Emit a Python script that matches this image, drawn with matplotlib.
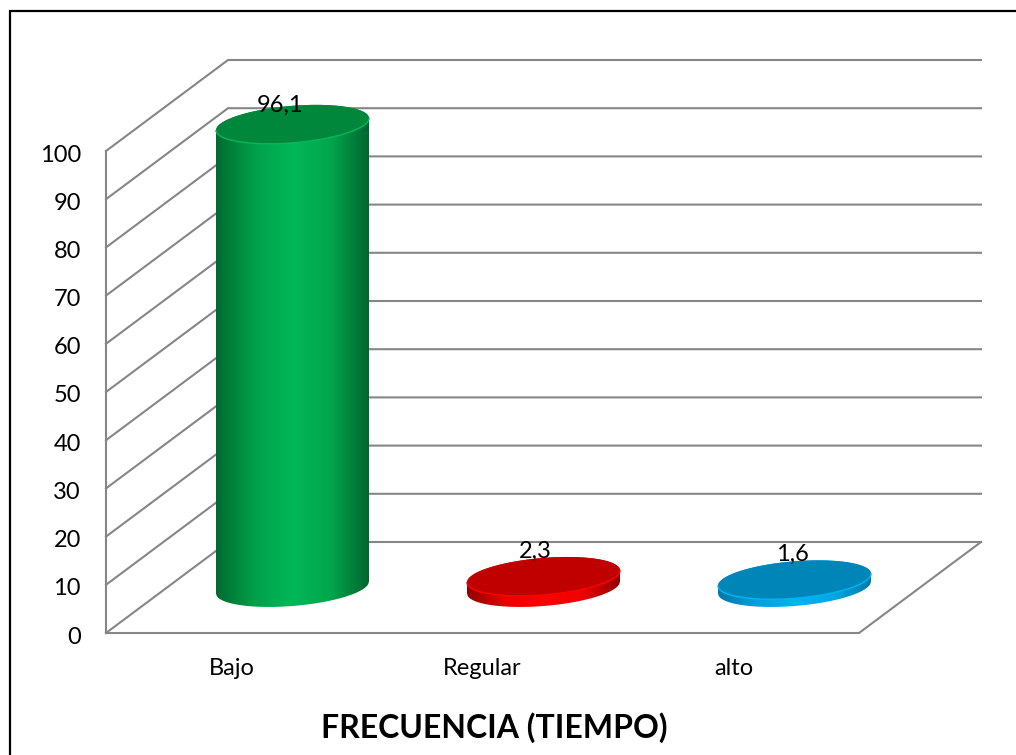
import numpy as np
import matplotlib
matplotlib.use('Agg')
import matplotlib.pyplot as plt
from matplotlib.colors import LinearSegmentedColormap
from matplotlib.patches import Polygon
from matplotlib.lines import Line2D
from matplotlib.transforms import ScaledTranslation

categorias = ['Bajo', 'Regular', 'alto']
valores = [96.1, 2.3, 1.6]
etiquetas = ['96,1', '2,3', '1,6']
yticks = [0, 10, 20, 30, 40, 50, 60, 70, 80, 90, 100]

colores_tapa = ['#00873C', '#C00000', '#0085B8']
colores_lado = [['#006B30', '#00A04A', '#00B858', '#00A64C', '#006630'],
                ['#900000', '#E80000', '#FF0000', '#F00000', '#900000'],
                ['#0078A8', '#00A0DC', '#00B4F4', '#00A8E4', '#0078A8']]
gris = '#868686'

W, H = 1016, 755
plt.rcParams['font.family'] = ['Lato', 'DejaVu Sans']
fig = plt.figure(figsize=(W / 100, H / 100), dpi=100)

# marco negro, abierto por la derecha y por abajo
fig.add_artist(Line2D([9.5 / W, 9.5 / W, 1.0], [0, 1 - 11 / H, 1 - 11 / H], color='black', lw=1.6,
                      solid_joinstyle='miter', transform=fig.transFigure))

# el plano frontal del grafico es el eje; el fondo se saca con un desplazamiento
ax = fig.add_axes([106 / W, (H - 633) / H, 753 / W, 482 / H])
ax.set_facecolor('none')
px_x = 753 / 3
px_y = 482 / 100
dx = 122 / px_x
dy = 91 / px_y

for v in yticks:
    ax.plot([0, dx, 3 + dx], [v, v + dy, v + dy], color=gris, lw=1.5, clip_on=False,
            solid_joinstyle='miter', zorder=1)
ax.plot([0, 0], [0, 100], color=gris, lw=1.5, clip_on=False, zorder=1)
ax.plot([0, 3, 3 + dx], [0, 0, dy], color=gris, lw=1.5, clip_on=False, zorder=1)

a = 76.5 / px_x
b = 18.5 / px_y
k = 6.0 / px_y
t = np.linspace(0, 2 * np.pi, 200)


def elipse(cx, cy):
    return cx + a * np.cos(t), cy + b * np.sin(t) + k * np.cos(t)


desp_x = [-12, -8, -2]
desp_y = [19, 25, 25]
for i, v in enumerate(valores):
    cx = i + 0.5 + dx / 2
    cy = dy / 2
    ex1, ey1 = elipse(cx, cy + v)
    # cuerpo del cilindro con gradiente horizontal
    lado = np.linspace(-1, 1, 200)
    xb = cx + a * lado
    sombra = k * lado
    arc = b * np.sqrt(1 - lado ** 2)
    poly = np.r_[np.c_[xb, cy + sombra - arc], np.c_[xb[::-1], cy + v + (sombra + arc)[::-1]]]
    cmap = LinearSegmentedColormap.from_list('lado', colores_lado[i])
    img = ax.imshow(np.linspace(0, 1, 256).reshape(1, -1), cmap=cmap, aspect='auto',
                    extent=[cx - a, cx + a, cy - b - k, cy + v + b + k], zorder=3)
    parche = Polygon(poly, closed=True, transform=ax.transData, fc='none', ec='none')
    ax.add_patch(parche)
    img.set_clip_path(parche)
    img.set_clip_box(fig.bbox)
    ax.fill(ex1, ey1, color=colores_tapa[i], lw=0, zorder=4, clip_on=False)
    # borde claro solo en el frente de la tapa
    mitad = np.sin(t) < 0
    ax.plot(ex1[mitad], ey1[mitad], color=colores_lado[i][2], lw=1.0, zorder=5, clip_on=False)
    ax.annotate(etiquetas[i], (cx, cy + v), xytext=(desp_x[i] * 0.72, desp_y[i] * 0.72),
                textcoords='offset points', ha='center', va='center', fontsize=17,
                color='black', zorder=6, annotation_clip=False)

ax.set_xlim(0, 3)
ax.set_ylim(0, 100)
ax.set_xticks([i + 0.5 for i in range(3)], categorias, fontsize=17)
ax.set_yticks(yticks, [str(y) for y in yticks], fontsize=17)
ax.tick_params(axis='x', length=0, pad=18)
ax.tick_params(axis='y', length=0, pad=18)
for lab in ax.get_yticklabels():
    lab.set_transform(lab.get_transform() + ScaledTranslation(0, -2 / 100, fig.dpi_scale_trans))
for s in ax.spines.values():
    s.set_visible(False)

fig.text(494 / W, (H - 728) / H, 'FRECUENCIA (TIEMPO)', ha='center', va='center',
         fontsize=23, fontweight='bold', color='black')

fig.savefig('out.png', dpi=100)
